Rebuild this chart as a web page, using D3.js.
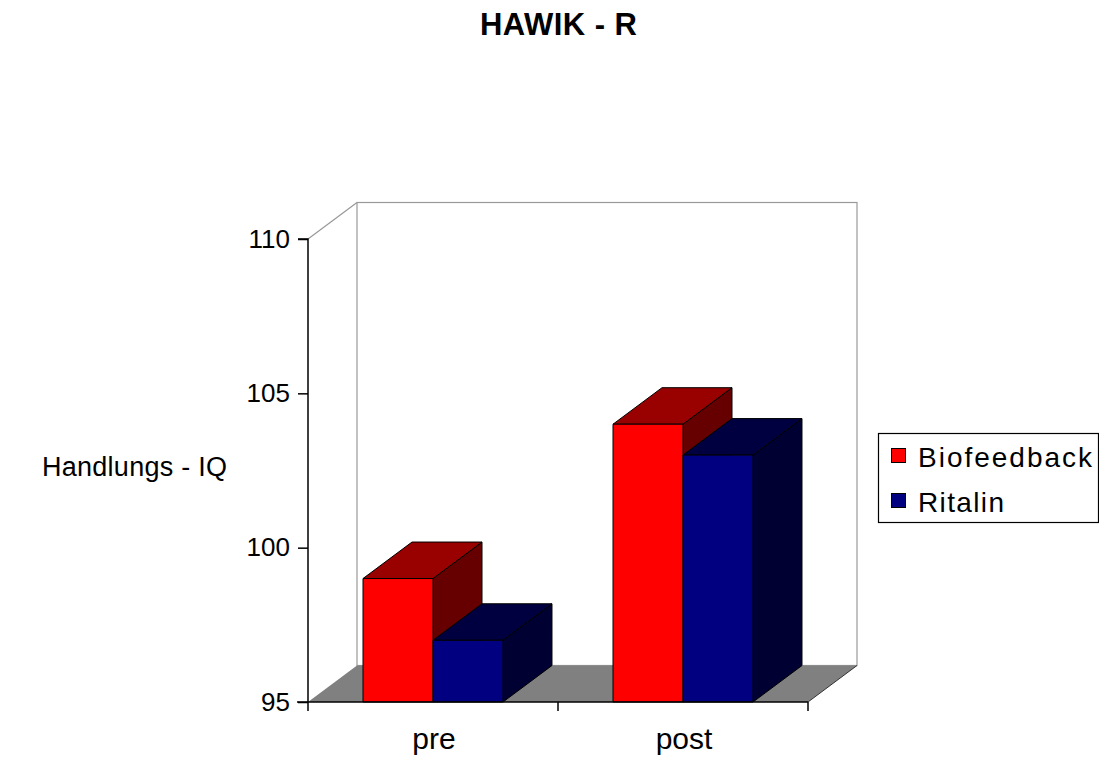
<!DOCTYPE html>
<html><head><meta charset="utf-8">
<script src="https://cdn.jsdelivr.net/npm/d3@7"></script>
<style>html,body{margin:0;padding:0;background:#fff;}svg{display:block;}</style>
</head><body>
<svg id="chart" width="1099" height="760"></svg>
<script>
const categories = ["pre", "post"];
const seriesNames = ["Biofeedback", "Ritalin"];
const biofeedback = [99, 104];
const ritalin = [97, 103];
const yTicks = [95, 100, 105, 110];

const svg = d3.select("#chart");
const font = "'Liberation Sans', Arial, sans-serif";
const depth = {dx: 49, dy: -36.5};
const colors = {
  Biofeedback: {front: "#ff0000", top: "#990000", side: "#660000"},
  Ritalin: {front: "#000080", top: "#000040", side: "#000033"}
};
const values = {Biofeedback: biofeedback, Ritalin: ritalin};

const y = d3.scaleLinear().domain([95, 110]).range([702, 239]);
const x = d3.scaleBand().domain(categories).range([308, 808]).padding(0);
const xs = d3.scaleBand().domain(seriesNames).range([0, x.bandwidth()]).paddingInner(0).paddingOuter(0.786);

const x0 = 308, x1 = 808, yb = y(95), yt = y(110);

// back wall
svg.append("rect").attr("x", x0 + depth.dx).attr("y", yt + depth.dy)
  .attr("width", x1 - x0).attr("height", yb - yt)
  .attr("fill", "#fff").attr("stroke", "#999").attr("stroke-width", 1.2);
// left wall top diagonal
svg.append("line").attr("x1", x0).attr("y1", yt).attr("x2", x0 + depth.dx).attr("y2", yt + depth.dy)
  .attr("stroke", "#999").attr("stroke-width", 1.2);
// floor
svg.append("path").attr("d", `M${x0},${yb}L${x0+depth.dx},${yb+depth.dy}L${x1+depth.dx},${yb+depth.dy}L${x1},${yb}Z`)
  .attr("fill", "#808080").attr("stroke", "none");
svg.append("line").attr("x1", x1).attr("y1", yb).attr("x2", x1 + depth.dx).attr("y2", yb + depth.dy)
  .attr("stroke", "#333").attr("stroke-width", 1);

// bars
categories.forEach((c, ci) => {
  seriesNames.forEach(s => {
    const v = values[s][ci];
    const bx = x(c) + xs(s), bw = xs.bandwidth();
    const ty = y(v), by = yb;
    const col = colors[s];
    const g = svg.append("g").attr("stroke", "#000").attr("stroke-width", 1).attr("stroke-linejoin", "round");
    g.append("path").attr("fill", col.side)
      .attr("d", `M${bx+bw},${ty}L${bx+bw+depth.dx},${ty+depth.dy}L${bx+bw+depth.dx},${by+depth.dy}L${bx+bw},${by}Z`);
    g.append("path").attr("fill", col.top)
      .attr("d", `M${bx},${ty}L${bx+depth.dx},${ty+depth.dy}L${bx+bw+depth.dx},${ty+depth.dy}L${bx+bw},${ty}Z`);
    g.append("rect").attr("fill", col.front).attr("x", bx).attr("y", ty).attr("width", bw).attr("height", by - ty);
  });
});

// y axis
const yAxis = d3.axisLeft(y).tickValues(yTicks).tickSize(10).tickPadding(8).tickFormat(d3.format("d"));
const ga = svg.append("g").attr("transform", `translate(${x0},0)`).call(yAxis);
ga.select(".domain").attr("stroke", "#000").attr("stroke-width", 1.5).attr("d", `M-10,${yt}H0V${yb}`);
ga.selectAll(".tick line").attr("stroke", "#000").attr("stroke-width", 1.5);
ga.selectAll(".tick text").attr("font-family", font).attr("font-size", 26).attr("fill", "#000");

// x axis
const xAxis = d3.axisBottom(x).tickSize(0).tickPadding(26);
const gx = svg.append("g").attr("transform", `translate(0,${yb})`).call(xAxis);
gx.select(".domain").attr("stroke", "#000").attr("stroke-width", 1.5).attr("d", `M${x0-11},0H${x1}`);
gx.selectAll(".tick text").attr("font-family", font).attr("font-size", 30).attr("fill", "#000")
  .attr("dy", "0.71em").attr("x", 1);
const tickPos = [x0, x0 + x.step(), x1];
gx.selectAll(".sep").data(tickPos).enter().append("line").attr("class", "sep")
  .attr("x1", d => d).attr("x2", d => d).attr("y1", 0).attr("y2", 9)
  .attr("stroke", "#000").attr("stroke-width", 1.5);

// y label
svg.append("text").attr("x", 42).attr("y", 476).attr("font-family", font).attr("font-size", 27)
  .attr("textLength", 185).attr("lengthAdjust", "spacing")
  .attr("fill", "#000").text("Handlungs - IQ");

// title
svg.append("text").attr("x", 480).attr("y", 35)
  .attr("font-family", font).attr("font-size", 31).attr("font-weight", "bold").attr("fill", "#000")
  .attr("textLength", 157).attr("lengthAdjust", "spacing")
  .text("HAWIK - R");

// legend
const lg = svg.append("g");
lg.append("rect").attr("x", 878.5).attr("y", 433.5).attr("width", 220).attr("height", 89)
  .attr("fill", "#fff").attr("stroke", "#000").attr("stroke-width", 1.2);
const legendWidths = [174, 86];
seriesNames.forEach((s, i) => {
  const yy = 467 + i * 45;
  lg.append("rect").attr("x", 891.5).attr("y", yy - 18.5).attr("width", 14).attr("height", 14)
    .attr("fill", colors[s].front).attr("stroke", "#000").attr("stroke-width", 1);
  lg.append("text").attr("x", 918).attr("y", yy).attr("font-family", font).attr("font-size", 28)
    .attr("textLength", legendWidths[i]).attr("lengthAdjust", "spacing")
    .attr("fill", "#000").text(s);
});
</script>
</body></html>
